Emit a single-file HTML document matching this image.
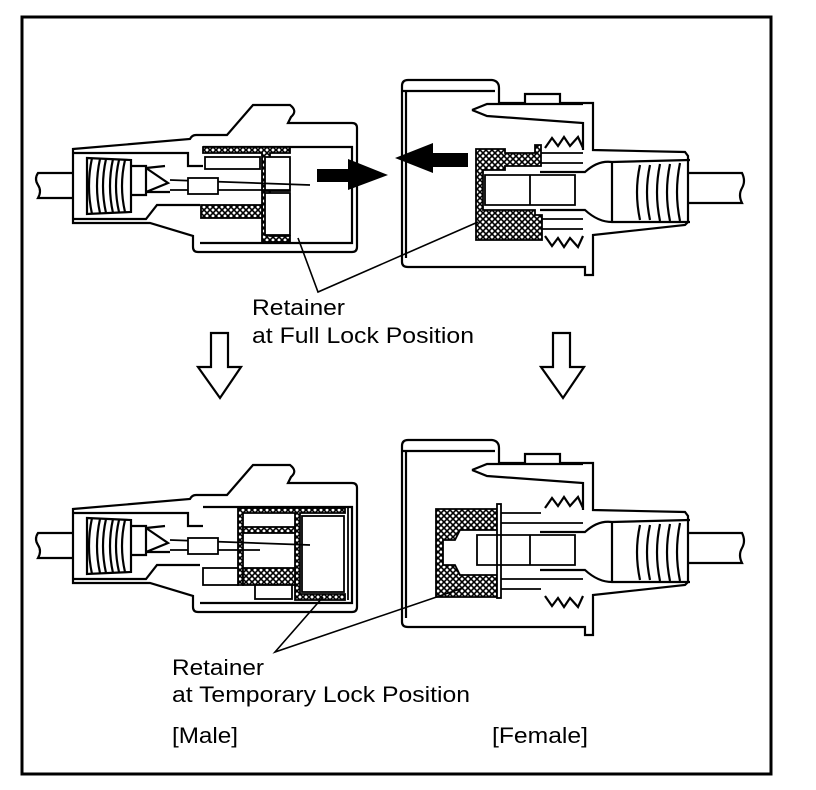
<!DOCTYPE html>
<html><head><meta charset="utf-8"><style>
html,body{margin:0;padding:0;background:#fff;}
svg{display:block;}
text{font-family:"Liberation Sans",Arial,sans-serif;font-size:22px;fill:#000;}
</style></head><body>
<svg width="816" height="790" viewBox="0 0 816 790" xmlns="http://www.w3.org/2000/svg">
<defs>
<pattern id="h" width="6" height="6" patternUnits="userSpaceOnUse">
<rect width="6" height="6" fill="#fff"/>
<path d="M0,0L6,6M6,0L0,6" stroke="#000" stroke-width="1.6"/>
</pattern>
<g id="maleShell" fill="none" stroke="#000" stroke-width="2.2">
<path d="M74,173 L38,173 q-4,6 0,12 q4,6 0,13 L74,198" fill="#fff"/>
<path d="M73,149 L190,139 Q192,135 196,135 L227,135 L253,105 L290,105 Q298,111 291,117 L288,123 L352,123 Q357,123 357,128 L357,247 Q357,252 352,252 L198,252 Q193,252 193,247 L193,236 L150,223 L73,223 Z" fill="#fff"/>
<path d="M73,153 L188,153 L188,166 L203,166"/>
<path d="M73,219 L146,219 L157,205 L200,205"/>
<path d="M203,147 L352,147 L352,243 L200,243"/>
<path d="M87,158 L131,160 L131,212 L87,214 Z"/>
<path d="M92,158 Q86,186 92,214 M100,159 Q94,186 100,213 M106,159 Q100,186 106,213 M113,159 Q107,186 113,213 M119,160 Q113,186 119,212 M125,160 Q119,186 125,212"/>
<path d="M131,166 L146,166 L146,195 L131,195"/>
<path d="M146,168 L168,183 L146,192 M146,168 L165,166 M146,192 L170,192"/>
</g>
<g id="femShell" fill="none" stroke="#000" stroke-width="2.2">
<path d="M688,173 L742,173 q4,8 0,15 q-4,7 0,15 L688,203" fill="#fff"/>
<path d="M402,86 Q402,80 408,80 L492,80 Q499,81 499,88 L499,103 L525,103 L525,94 L560,94 L560,103 L593,103 L593,150 L685,152 L688,156 L688,222 L685,225 L593,235 L593,275 L585,275 L585,267 L408,267 Q402,267 402,262 Z" fill="#fff"/>
<path d="M406,92 L406,258 M402,91 L495,91"/>
<path d="M472,110 L487,104 L583,104 M472,110 L487,116 L583,123 L583,150"/>
<path d="M540,172 L585,172 Q598,160 612,162 L690,160 M540,210 L585,210 Q598,222 612,222 L690,222"/>
<path d="M612,162 L612,222 M640,165 Q634,192 640,220 M650,165 Q644,192 650,220 M660,164 Q654,192 660,221 M670,164 Q664,192 670,221 M680,163 Q674,192 680,221"/>
<path d="M545,148 L552,138 L558,146 L564,137 L570,146 L578,137 L583,148 M545,236 L552,246 L558,238 L564,247 L570,238 L578,247 L583,236"/>
</g>
</defs>
<rect x="22" y="17" width="749" height="757" fill="none" stroke="#000" stroke-width="3"/>

<use href="#maleShell"/>
<g stroke="#000" stroke-width="1.8">
<path d="M203,147 L290,147 L290,153 L270,153 L270,236 L290,236 L290,242 L262,242 L262,153 L203,153 Z" fill="url(#h)"/>
<rect x="201" y="205" width="61" height="13" fill="url(#h)"/>
<rect x="265" y="157" width="25" height="34" fill="#fff"/>
<rect x="265" y="193" width="25" height="42" fill="#fff"/>
<rect x="205" y="157" width="55" height="12" fill="none"/>
<path d="M170,180 L310,185 M170,190 L290,190" fill="none"/>
<rect x="188" y="178" width="30" height="16" fill="#fff"/>
</g>
<path d="M317,169 L348,169 L348,159 L388,175 L348,190 L348,182 L317,182 Z" fill="#000"/>

<use href="#femShell"/>
<g stroke="#000" stroke-width="1.8">
<path d="M476,149 L505,149 L505,153 L535,153 L535,145 L541,145 L541,166 L505,166 L505,170 L483,170 L483,210 L535,210 L535,215 L542,215 L542,240 L476,240 Z" fill="url(#h)"/>
<path d="M541,153 L583,153 M541,163 L583,163 M541,219 L583,219 M541,229 L583,229" fill="none"/>
<path d="M485,175 L575,175 L575,205 L485,205 Z M530,175 L530,205" fill="none"/>
</g>
<path d="M468,153 L433,153 L433,143 L395,158 L433,173 L433,167 L468,167 Z" fill="#000"/>

<path d="M298,238 L318,292 L478,222" fill="none" stroke="#000" stroke-width="1.6"/>
<text x="252" y="315" textLength="93" lengthAdjust="spacingAndGlyphs">Retainer</text>
<text x="252" y="343" textLength="222" lengthAdjust="spacingAndGlyphs">at Full Lock Position</text>

<path d="M211,333 L228,333 L228,367 L241,367 L220,398 L198,367 L211,367 Z" fill="#fff" stroke="#000" stroke-width="2.2"/>
<path d="M553,333 L570,333 L570,367 L584,367 L563,398 L541,367 L553,367 Z" fill="#fff" stroke="#000" stroke-width="2.2"/>

<g transform="translate(0,360)"><use href="#maleShell"/></g>
<g stroke="#000" stroke-width="1.8">
<path d="M238,508 L345,508 L345,513 L300,513 L300,594 L345,594 L345,600 L295,600 L295,513 L243,513 L243,585 L238,585 Z" fill="url(#h)"/>
<rect x="243" y="568" width="52" height="17" fill="url(#h)"/>
<rect x="243" y="527" width="52" height="6" fill="url(#h)"/>
<rect x="302" y="516" width="42" height="76" fill="#fff"/>
<path d="M348,508 L348,600" fill="none"/>
<path d="M170,540 L310,545 M170,550 L260,550" fill="none"/>
<rect x="188" y="538" width="30" height="16" fill="#fff"/>
<rect x="203" y="568" width="35" height="17" fill="#fff"/>
<rect x="255" y="585" width="37" height="14" fill="#fff"/>
</g>

<g transform="translate(0,360)"><use href="#femShell"/></g>
<g stroke="#000" stroke-width="1.8">
<path d="M436,509 L497,509 L497,530 L460,530 L455,540 L443,540 L443,565 L455,565 L460,575 L497,575 L497,597 L436,597 Z" fill="url(#h)"/>
<rect x="497" y="504" width="4" height="94" fill="#fff"/>
<path d="M501,513 L541,513 M501,523 L583,523 M501,579 L583,579 M501,589 L541,589" fill="none"/>
<path d="M477,535 L575,535 L575,565 L477,565 Z M530,535 L530,565" fill="none"/>
</g>

<path d="M323,597 L275,652 L463,588" fill="none" stroke="#000" stroke-width="1.6"/>
<text x="172" y="675" textLength="92" lengthAdjust="spacingAndGlyphs">Retainer</text>
<text x="172" y="702" textLength="298" lengthAdjust="spacingAndGlyphs">at Temporary Lock Position</text>
<text x="172" y="743" textLength="66" lengthAdjust="spacingAndGlyphs">[Male]</text>
<text x="492" y="743" textLength="96" lengthAdjust="spacingAndGlyphs">[Female]</text>
</svg>
</body></html>
